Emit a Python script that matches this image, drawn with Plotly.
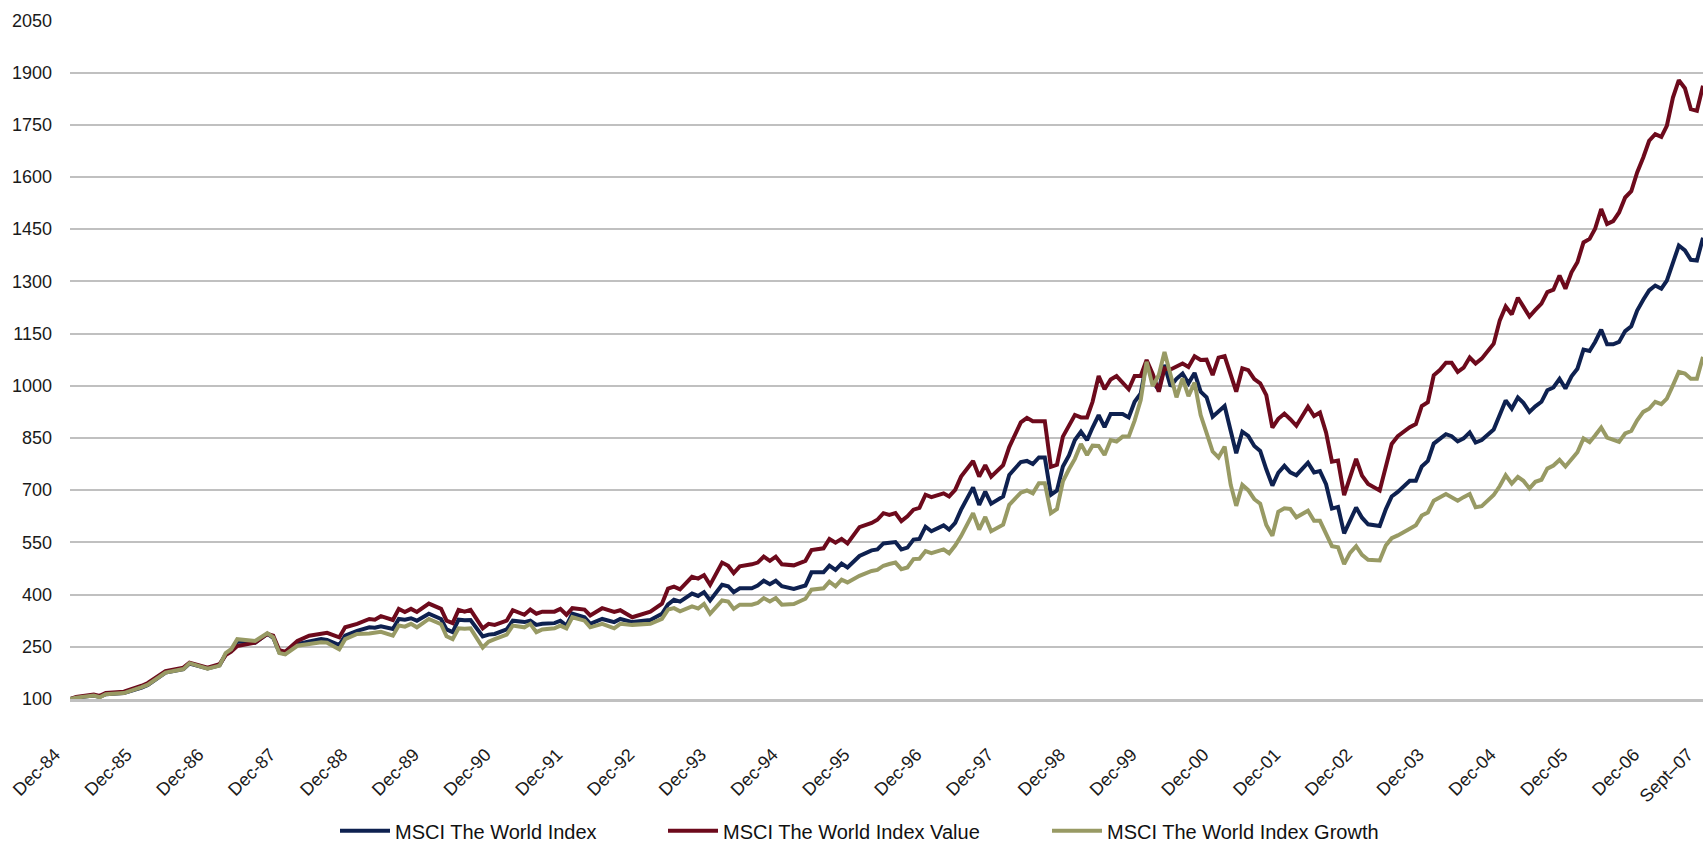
import pandas as pd
import plotly.graph_objects as go

# month offsets from Dec-84
months = [0, 1, 4, 5, 6, 9, 12, 13, 16, 19, 20, 23, 25, 26, 27, 28, 31, 33, 34, 35, 36,
          38, 40, 42, 43, 45, 46, 48, 50, 51, 52, 54, 55, 56, 57, 58, 60, 62, 63, 64, 65,
          66, 67, 69, 70, 71, 73, 74, 76, 77, 78, 79, 81, 82, 83, 84, 86, 87, 89, 91, 92,
          94, 97, 99, 100, 101, 102, 104, 105, 106, 107, 109, 110, 111, 112, 114, 115, 116,
          117, 118, 119, 121, 123, 124, 126, 127, 128, 129, 130, 132, 134, 135, 136, 137,
          138, 139, 140, 141, 142, 143, 144, 146, 147, 148, 149, 151, 152, 153, 154, 156,
          157, 159, 160, 161, 162, 163, 164, 165, 166, 167, 168, 169, 170, 171, 172, 173,
          174, 175, 176, 177, 178, 179, 180, 181, 182, 183, 184, 185, 186, 187, 188, 189,
          190, 191, 192, 193, 194, 195, 196, 197, 198, 199, 200, 201, 202, 203, 204, 205,
          207, 208, 209, 210, 211, 212, 213, 214, 215, 216, 217, 219, 220, 221, 222, 224,
          225, 226, 227, 228, 229, 230, 231, 232, 233, 234, 235, 236, 238, 239, 240, 241,
          242, 243, 244, 245, 246, 247, 248, 249, 250, 251, 252, 253, 254, 255, 256, 257,
          258, 259, 260, 261, 262, 263, 264, 265, 266, 267, 268, 269, 270, 271, 272, 273]

world = [100, 104, 110, 106, 114, 117, 133, 140, 176, 186, 202, 188, 197, 228, 240, 265, 262, 287, 276, 234, 230,
         258, 265, 272, 270, 255, 282, 296, 306, 305, 309, 301, 330, 328, 332, 325, 345, 330, 300, 292, 328,
         326, 327, 280, 285, 287, 300, 325, 321, 325, 313, 316, 318, 325, 311, 345, 335, 316, 330, 321, 330,
         321, 327, 345, 372, 385, 380, 403, 396, 407, 383, 428, 424, 407, 418, 418, 426, 440,
         430, 440, 424, 416, 426, 464, 464, 483, 471, 489, 478, 511, 527, 530, 547, 549,
         551, 530, 535, 558, 560, 595, 582, 599, 587, 606, 644, 708, 658, 696, 661, 682,
         744, 781, 784, 775, 794, 794, 687, 699, 768, 800, 844, 868, 844, 880, 916, 881,
         919, 919, 919, 909, 954, 978, 1069, 1012, 988, 1060, 999, 1020, 1035, 1007, 1037, 983,
         967, 911, 925, 942, 870, 806, 868, 856, 827, 813, 760, 713, 750, 770, 751, 743,
         779, 751, 755, 717, 647, 652, 576, 616, 650, 621, 602, 597, 645, 682, 695, 727,
         727, 768, 784, 834, 848, 861, 855, 840, 849, 866, 837, 844, 874, 915, 958, 934,
         966, 951, 925, 941, 954, 987, 995, 1020, 992, 1027, 1049, 1104, 1100, 1126, 1161, 1119,
         1119, 1126, 1157, 1171, 1216, 1247, 1274, 1288, 1279, 1302, 1355, 1403, 1389, 1362, 1360, 1425]

value = [100, 106, 113, 109, 117, 121, 138, 146, 180, 190, 204, 190, 200, 226, 236, 252, 262, 287, 282, 240, 236,
         267, 282, 287, 290, 277, 306, 316, 330, 328, 338, 327, 359, 350, 359, 350, 374, 359, 325, 318, 356,
         351, 356, 303, 316, 313, 325, 355, 342, 357, 345, 351, 351, 359, 342, 361, 357, 340, 361, 350, 355,
         335, 351, 374, 417, 423, 415, 451, 446, 456, 428, 492, 483, 462, 481, 487, 492, 509,
         497, 509, 487, 484, 497, 528, 533, 560, 549, 560, 547, 594, 606, 615, 634, 629,
         634, 611, 625, 644, 649, 687, 680, 691, 682, 701, 739, 784, 739, 772, 739, 772,
         824, 895, 908, 898, 898, 898, 767, 773, 854, 887, 916, 909, 909, 954, 1028, 990,
         1018, 1028, 1010, 990, 1028, 1028, 1074, 1034, 983, 1050, 1047, 1055, 1064, 1054, 1085, 1074,
         1075, 1031, 1081, 1085, 1035, 983, 1050, 1045, 1019, 1007, 973, 880, 905, 920, 904, 885,
         940, 913, 923, 866, 782, 785, 686, 742, 790, 742, 718, 699, 771, 833, 855, 881,
         890, 942, 953, 1030, 1045, 1066, 1066, 1040, 1052, 1081, 1064, 1078, 1121, 1188, 1228, 1205,
         1253, 1226, 1199, 1218, 1236, 1269, 1276, 1317, 1279, 1326, 1355, 1412, 1422, 1451, 1508, 1465,
         1473, 1498, 1541, 1559, 1613, 1656, 1704, 1723, 1715, 1747, 1828, 1878, 1855, 1795, 1790, 1862]

growth = [100, 104, 110, 105, 114, 117, 134, 141, 176, 186, 203, 187, 196, 232, 243, 272, 267, 289, 277, 232, 228,
          253, 258, 263, 262, 243, 272, 287, 288, 290, 293, 282, 311, 308, 316, 306, 330, 315, 280, 272, 303,
          302, 303, 248, 265, 272, 285, 311, 306, 316, 292, 300, 303, 311, 303, 335, 325, 306, 316, 303, 316,
          313, 316, 330, 357, 361, 352, 366, 360, 373, 345, 383, 380, 359, 371, 371, 376, 390,
          380, 390, 371, 373, 388, 414, 418, 437, 424, 443, 435, 454, 468, 471, 483, 488,
          492, 473, 478, 502, 503, 525, 519, 530, 519, 541, 568, 634, 587, 623, 582, 601,
          658, 693, 699, 691, 720, 720, 634, 646, 725, 760, 790, 833, 801, 828, 827, 801,
          844, 840, 854, 854, 900, 959, 1069, 999, 1031, 1097, 1031, 967, 1021, 970, 1009, 916,
          865, 811, 794, 825, 715, 655, 715, 700, 674, 661, 600, 569, 638, 648, 646, 622,
          641, 612, 612, 574, 539, 536, 488, 520, 539, 514, 500, 498, 541, 562, 570, 589,
          599, 627, 636, 670, 680, 689, 680, 670, 680, 689, 651, 654, 686, 712, 743, 719,
          738, 727, 705, 724, 730, 762, 771, 787, 768, 790, 809, 849, 838, 857, 880, 851,
          844, 839, 863, 870, 901, 925, 934, 954, 947, 963, 1001, 1040, 1035, 1020, 1020, 1083]

tick_months = [0, 12, 24, 36, 48, 60, 72, 84, 96, 108, 120, 132, 144, 156, 168, 180,
               192, 204, 216, 228, 240, 252, 264, 273]
tick_labels = ["Dec-84", "Dec-85", "Dec-86", "Dec-87", "Dec-88", "Dec-89", "Dec-90",
               "Dec-91", "Dec-92", "Dec-93", "Dec-94", "Dec-95", "Dec-96", "Dec-97",
               "Dec-98", "Dec-99", "Dec-00", "Dec-01", "Dec-02", "Dec-03", "Dec-04",
               "Dec-05", "Dec-06", "Sept\u201307"]

series_names = ["MSCI The World Index", "MSCI The World Index Value",
                "MSCI The World Index Growth"]
colors = ["#0e2150", "#6d0a1c", "#989a64"]

start = pd.Timestamp("1984-12-01")
dates = [start + pd.DateOffset(months=m) for m in months]
tick_dates = [start + pd.DateOffset(months=m) for m in tick_months]

FONT = "Liberation Sans, Arial, sans-serif"

fig = go.Figure()
legend_ids = ["legend", "legend2", "legend3"]
for name, vals, col, lg in zip(series_names, [world, value, growth], colors, legend_ids):
    fig.add_trace(go.Scatter(x=dates, y=vals, mode="lines", name=name,
                             line=dict(color=col, width=4), legend=lg))

leg_common = dict(orientation="h", xref="container", yref="container",
                  xanchor="left", yanchor="middle", y=0.018,
                  font=dict(family=FONT, size=20, color="#111111"),
                  itemwidth=50, bgcolor="rgba(0,0,0,0)", borderwidth=0)

fig.update_layout(
    width=1704, height=846,
    margin=dict(l=70, r=1, t=20, b=147),
    paper_bgcolor="white", plot_bgcolor="white",
    showlegend=True,
    legend=dict(x=335 / 1704, **leg_common),
    legend2=dict(x=663 / 1704, **leg_common),
    legend3=dict(x=1047 / 1704, **leg_common),
    xaxis=dict(
        type="date",
        range=[tick_dates[0], tick_dates[-1]],
        tickvals=tick_dates, ticktext=tick_labels,
        tickangle=-45, showgrid=False, ticks="",
        ticklabelstandoff=35, ticklabelshift=-15,
        showline=True, linecolor="#c0c0c0", linewidth=3,
        tickfont=dict(family=FONT, size=18, color="#1a1a1a"),
        zeroline=False,
    ),
    yaxis=dict(
        range=[100, 2051], tick0=100, dtick=150,
        showgrid=True, gridcolor="#c0c0c0", gridwidth=1.5,
        ticks="", showline=False, zeroline=False,
        ticklabelstandoff=17,
        tickfont=dict(family=FONT, size=18, color="#1a1a1a"),
    ),
)

fig.write_html(
    "out.html",
    config={"displayModeBar": False},
    post_script="document.body.style.margin='0';document.body.style.overflow='hidden';",
)
